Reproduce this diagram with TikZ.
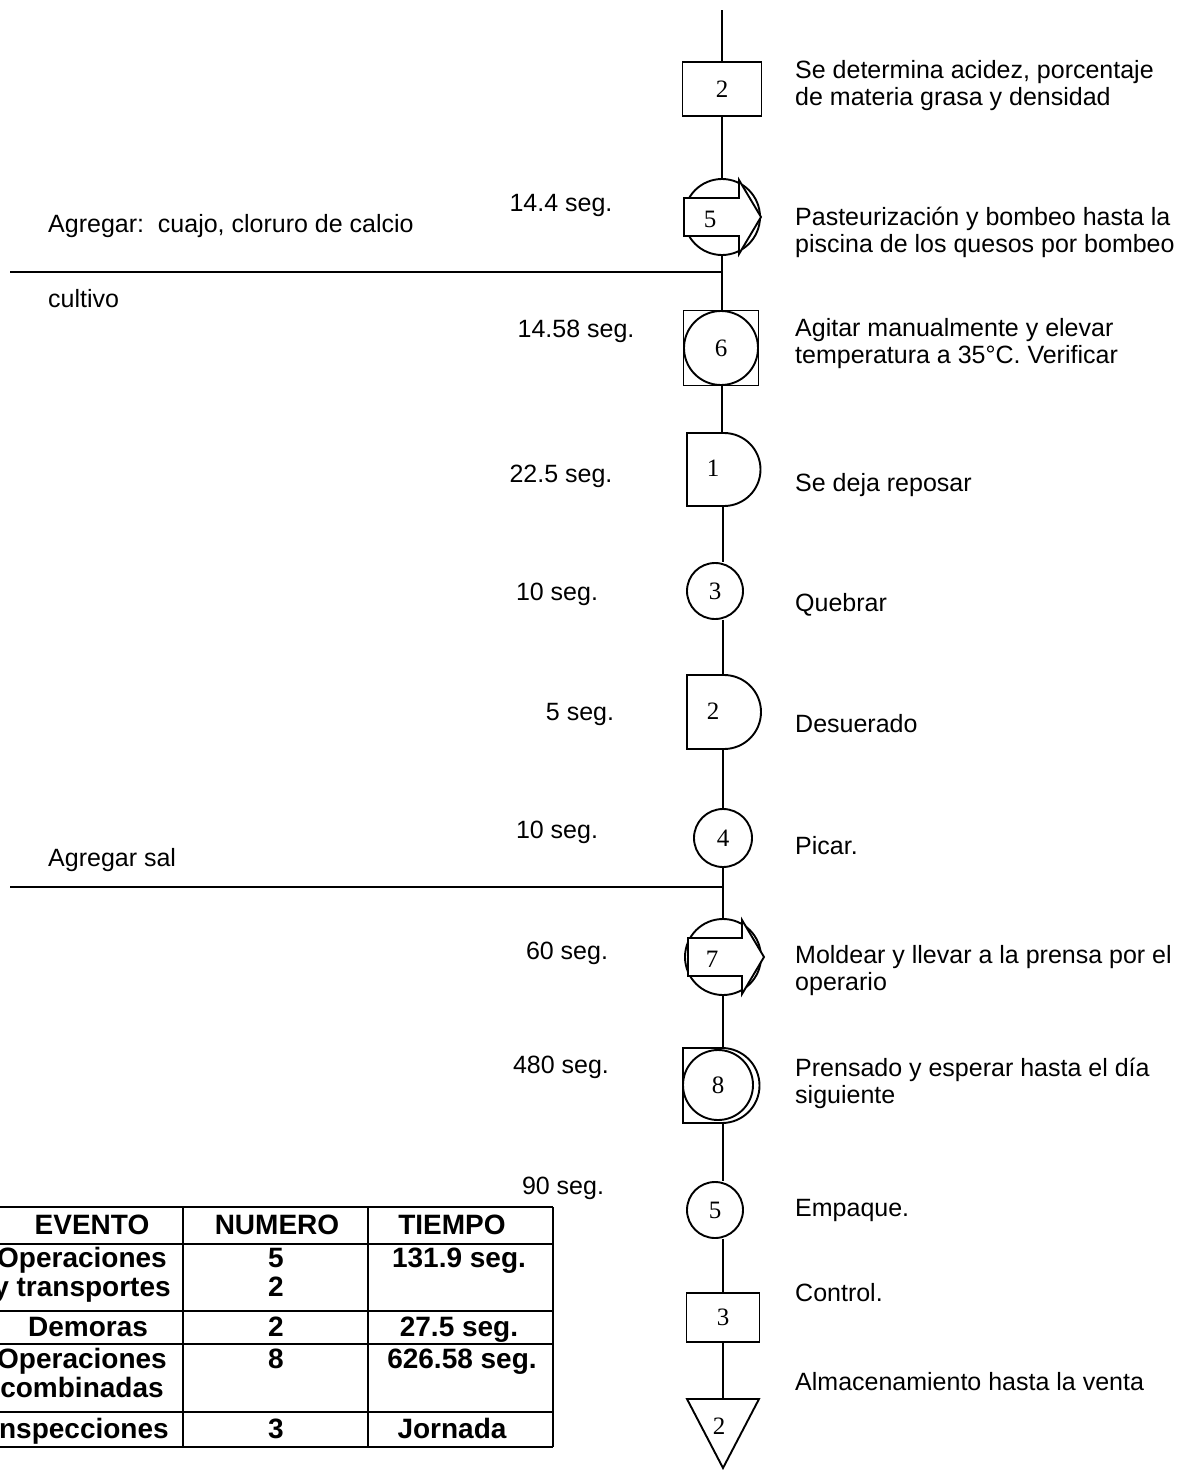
\documentclass[tikz,border=0pt]{standalone}
\usepackage{fontspec}
\setmainfont{Liberation Sans}
\newfontfamily\numfont{Liberation Serif}
\begin{document}
\begin{tikzpicture}[x=1pt,y=-1pt]
\tikzset{
  flow/.style={line width=1.9pt},
  lbl/.style={font=\fontsize{25}{27}\selectfont, inner sep=0pt, align=left, anchor=west},
  tm/.style={font=\fontsize{25}{27}\selectfont, inner sep=0pt},
  num/.style={font=\numfont\fontsize{25}{27}\selectfont, inner sep=0pt},
  opcirc/.style={circle, draw, line width=1.9pt, inner sep=0pt, font=\numfont\fontsize{25}{27}\selectfont},
  insbox/.style={rectangle, draw, line width=1.9pt, inner sep=0pt, font=\numfont\fontsize{25}{27}\selectfont},
  tab/.style={font=\bfseries\fontsize{28}{29}\selectfont, inner sep=0pt, text height=20pt, text depth=6pt},
  grid/.style={line width=1.9pt},
}
\clip (0,0) rectangle (1196,1470);
\fill[white] (0,0) rectangle (1196,1470);

% ---------- symbols along the process line ----------
\coordinate (start) at (722,10);
\node[insbox, minimum width=79pt, minimum height=54pt] (b2) at (722,89) {2};

% combined operation / transport 5
\node[opcirc, minimum size=76pt] (c5) at (722,217) {};
\draw[flow, fill=white] (684,198) -- (739,198) -- (739,180) -- (761,217)
  -- (739,254) -- (739,236) -- (684,236) -- cycle;
\node[num] (n5) at (710,219) {5};

\coordinate (j1) at (722,272);
\coordinate (l1) at (10,272);

% combined operation / inspection 6
\node[insbox, minimum size=75pt] (sq6) at (721,348) {};
\node[opcirc, minimum size=74pt] (c6) at (721,348) {6};

% delay 1
\coordinate (d1t) at (722,433);
\coordinate (d1b) at (723,506);
\draw[flow] (687,433) -- (724,433) arc[start angle=90, end angle=-90, radius=36.5pt] -- (687,506) -- cycle;
\node[num] (n1) at (713,468) {1};

% operation 3
\node[opcirc, minimum size=56pt] (c3) at (715,591) {3};

% delay 2
\coordinate (d2t) at (723,675);
\coordinate (d2b) at (723,749);
\draw[flow] (687,675) -- (724,675) arc[start angle=90, end angle=-90, radius=37pt] -- (687,749) -- cycle;
\node[num] (n2) at (713,711) {2};

% operation 4
\node[opcirc, minimum size=58pt] (c4) at (723,838) {4};

\coordinate (j2) at (723,887);
\coordinate (l2) at (10,887);

% combined operation / transport 7
\node[opcirc, minimum size=76pt] (c7) at (723,957) {};
\draw[flow, fill=white] (688,938) -- (742,938) -- (742,920) -- (764,957)
  -- (742,994) -- (742,976) -- (688,976) -- cycle;
\node[num] (n7) at (712,959) {7};

% combined operation / delay 8
\coordinate (s8t) at (723,1048);
\coordinate (s8b) at (723,1123);
\draw[flow] (683,1048) -- (722,1048) arc[start angle=90, end angle=-90, radius=37.5pt] -- (683,1123) -- cycle;
\node[opcirc, minimum size=70pt] (c8) at (718,1085) {8};

% operation 5
\node[opcirc, minimum size=56pt] (c9) at (715,1210) {5};

% inspection 3
\node[insbox, minimum width=73pt, minimum height=49pt] (b3) at (723,1317.5) {3};

% storage 2
\coordinate (tt) at (723,1399);
\draw[flow] (687,1399) -- (759,1399) -- (723,1468) -- cycle;
\node[num] (n8) at (719,1426) {2};

% ---------- connectors ----------
\draw[flow] (start) -- (b2.north);
\draw[flow] (b2.south) -- (c5.north);
\draw[flow] (c5.south) -- (j1) -- (j1 |- sq6.north);
\draw[flow] (l1) -- (j1);
\draw[flow] (j1 |- sq6.south) -- (d1t);
\draw[flow] (d1b) -- (d1b |- c3.north);
\draw[flow] (d2t |- c3.south) -- (d2t);
\draw[flow] (d2b) -- (c4.north);
\draw[flow] (c4.south) -- (j2) -- (c7.north);
\draw[flow] (l2) -- (j2);
\draw[flow] (c7.south) -- (s8t);
\draw[flow] (s8b) -- (s8b |- c9.north);
\draw[flow] (s8b |- c9.south) -- (b3.north);
\draw[flow] (b3.south) -- (tt);

% ---------- descriptions ----------
\node[lbl] (t1) at (795,86) {Se determina acidez, porcentaje\\de materia grasa y densidad};
\node[lbl] (t2) at (795,232) {Pasteurización y bombeo hasta la\\piscina de los quesos por bombeo};
\node[lbl] (t3) at (795,344) {Agitar manualmente y elevar\\temperatura a 35°C. Verificar};
\node[lbl] (t4) at (795,485) {Se deja reposar};
\node[lbl] (t5) at (795,605) {Quebrar};
\node[lbl] (t6) at (795,724) {Desuerado};
\node[lbl] (t7) at (795,846) {Picar.};
\node[lbl] (t8) at (795,971) {Moldear y llevar a la prensa por el\\operario};
\node[lbl] (t9) at (795,1083) {Prensado y esperar hasta el día\\siguiente};
\node[lbl] (t10) at (795,1210) {Empaque.};
\node[lbl] (t11) at (795,1293) {Control.};
\node[lbl] (t12) at (795,1382) {Almacenamiento hasta la venta};

\node[lbl] (a1) at (48,226) {Agregar:\ \ cuajo, cloruro de calcio};
\node[lbl] (a2) at (48,299) {cultivo};
\node[lbl] (a3) at (48,860) {Agregar sal};

% ---------- times ----------
\node[tm] at (561,205) {14.4 seg.};
\node[tm] at (576,331) {14.58 seg.};
\node[tm] at (561,476) {22.5 seg.};
\node[tm] at (557,594) {10 seg.};
\node[tm] at (580,714) {5 seg.};
\node[tm] at (557,832) {10 seg.};
\node[tm] at (567,953) {60 seg.};
\node[tm] at (561,1067) {480 seg.};
\node[tm] at (563,1188) {90 seg.};

% ---------- summary table ----------
\fill[white] (-5,1199) rectangle (555,1449);
\foreach \yy in {1207,1244,1311,1344,1412,1447}
  \draw[grid] (-5,\yy) -- (553,\yy);
\foreach \xx in {183,368,553}
  \draw[grid] (\xx,1207) -- (\xx,1447);

\node[tab] at (92,1227) {EVENTO};
\node[tab] at (277,1227) {NUMERO};
\node[tab] at (452,1227) {TIEMPO};

\node[tab] at (82,1260) {Operaciones};
\node[tab] at (82,1289) {y transportes};
\node[tab] at (276,1260) {5};
\node[tab] at (276,1289) {2};
\node[tab] at (459,1260) {131.9 seg.};

\node[tab] at (88,1329) {Demoras};
\node[tab] at (276,1329) {2};
\node[tab] at (459,1329) {27.5 seg.};

\node[tab] at (82,1361) {Operaciones};
\node[tab] at (82,1390) {combinadas};
\node[tab] at (276,1361) {8};
\node[tab] at (462,1361) {626.58 seg.};

\node[tab] at (80,1431) {Inspecciones};
\node[tab] at (276,1431) {3};
\node[tab] at (452,1431) {Jornada};
\end{tikzpicture}
\end{document}
